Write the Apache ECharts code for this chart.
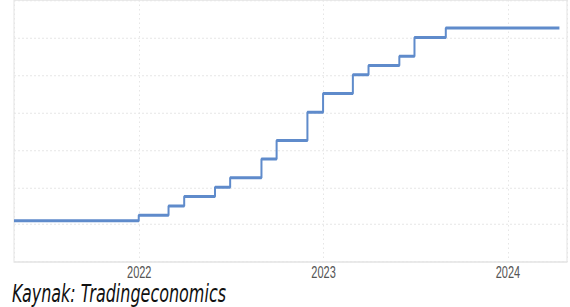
<!DOCTYPE html>
<html>
<head>
<meta charset="utf-8">
<script src="https://cdn.jsdelivr.net/npm/echarts@6/dist/echarts.min.js"></script>
<style>
  html, body { margin: 0; padding: 0; background: #fff; width: 570px; height: 307px; overflow: hidden; }
  /* kaynak gorsel dikeyde ~1.5 kat uzatilmis */
  #chart { width: 570px; height: 204.67px; transform: scaleY(1.5); transform-origin: 0 0; }
</style>
</head>
<body>
<div id="chart"></div>
<script>
// aylik veriler (ay sonu)
const dates = [
  '2021-04-28', '2021-05-31', '2021-06-30', '2021-07-31', '2021-08-31', '2021-09-30',
  '2021-10-31', '2021-11-30', '2021-12-31', '2022-01-31', '2022-02-28', '2022-03-31',
  '2022-04-30', '2022-05-31', '2022-06-30', '2022-07-31', '2022-08-31', '2022-09-30',
  '2022-10-31', '2022-11-30', '2022-12-31', '2023-01-31', '2023-02-28', '2023-03-31',
  '2023-04-30', '2023-05-31', '2023-06-30', '2023-07-31', '2023-08-31', '2023-09-30',
  '2023-10-31', '2023-11-30', '2023-12-31', '2024-01-31', '2024-02-29', '2024-03-31',
  '2024-04-12'
]
const values = [
  0.1, 0.1, 0.1, 0.1, 0.1, 0.1,
  0.1, 0.1, 0.25, 0.25, 0.5, 0.75,
  0.75, 1.0, 1.25, 1.25, 1.75, 2.25,
  2.25, 3.0, 3.5, 3.5, 4.0, 4.25,
  4.25, 4.5, 5.0, 5.0, 5.25, 5.25,
  5.25, 5.25, 5.25, 5.25, 5.25, 5.25,
  5.25
]
const xRange = ['2021-04-28', '2024-04-27']
const caption = 'Kaynak: Tradingeconomics'

let myChart = echarts.init(document.getElementById('chart'), null, { renderer: 'svg' })

let option = {
  animation: false,
  grid: {
    left: 14,
    right: 3,
    top: -0.67,
    bottom: 30.3,
    show: true,
    borderColor: '#e3e3e3',
    borderWidth: 1
  },
  xAxis: {
    type: 'time',
    min: xRange[0],
    max: xRange[1],
    minInterval: 365 * 24 * 3600 * 1000,
    axisLine: { show: false },
    axisTick: { show: false },
    axisLabel: {
      formatter: '{yyyy}',
      color: '#555',
      fontFamily: 'Liberation Sans',
      fontSize: 11,
      margin: 1,
      showMinLabel: false,
      showMaxLabel: false
    },
    splitLine: {
      show: true,
      lineStyle: { color: '#e6e6e6', type: [1, 2] }
    }
  },
  yAxis: {
    type: 'value',
    min: -1,
    max: 6,
    interval: 1,
    position: 'right',
    axisLine: { show: false },
    axisTick: { show: false },
    axisLabel: { show: false },
    splitLine: {
      lineStyle: { color: '#e6e6e6', width: 0.8, type: [2, 2] }
    }
  },
  graphic: [
    {
      type: 'text',
      left: 12,
      top: 188,
      style: {
        text: caption,
        font: 'italic 16px "DejaVu Sans"',
        fill: '#111'
      }
    }
  ],
  series: [
    {
      type: 'line',
      step: 'end',
      data: dates.map((d, i) => [d, values[i]]),
      showSymbol: false,
      lineStyle: { color: '#5f8bcb', width: 2 },
      itemStyle: { color: '#5f8bcb' }
    }
  ]
}

myChart.setOption(option)
</script>
</body>
</html>
